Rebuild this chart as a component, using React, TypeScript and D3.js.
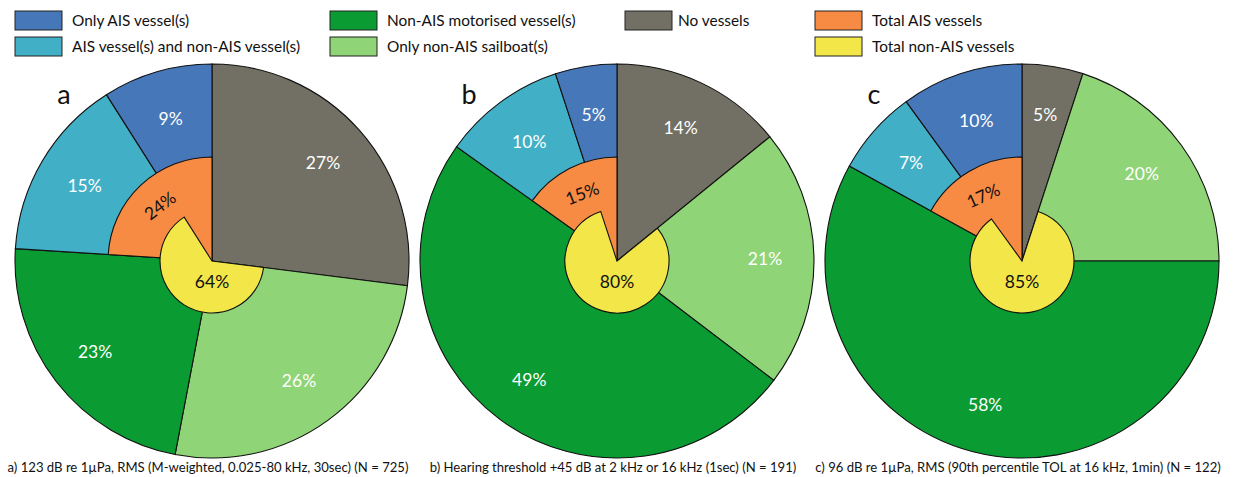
import React, { useEffect, useRef } from "react";
import * as d3 from "d3";

// outer ring categories, clockwise from 12 o'clock
const categories = [
  "No vessels",
  "Only non-AIS sailboat(s)",
  "Non-AIS motorised vessel(s)",
  "AIS vessel(s) and non-AIS vessel(s)",
  "Only AIS vessel(s)",
];
const valuesA = [27, 26, 23, 15, 9];
const valuesB = [14, 21, 49, 10, 5];
const valuesC = [5, 20, 58, 7, 10];
const totalAIS = [24, 15, 17];
const totalNonAIS = [64, 80, 85];
const panelLetters = ["a", "b", "c"];
const captions = [
  "a) 123 dB re 1\u00b5Pa, RMS (M-weighted, 0.025-80 kHz, 30sec) (N = 725)",
  "b) Hearing threshold +45 dB at 2 kHz or 16 kHz (1sec) (N = 191)",
  "c) 96 dB re 1\u00b5Pa, RMS (90th percentile TOL at 16 kHz, 1min) (N = 122)",
];

const legendItems = [
  { key: "Only AIS vessel(s)", col: 0, row: 0 },
  { key: "AIS vessel(s) and non-AIS vessel(s)", col: 0, row: 1 },
  { key: "Non-AIS motorised vessel(s)", col: 1, row: 0 },
  { key: "Only non-AIS sailboat(s)", col: 1, row: 1 },
  { key: "No vessels", col: 2, row: 0 },
  { key: "Total AIS vessels", col: 3, row: 0 },
  { key: "Total non-AIS vessels", col: 3, row: 1 },
];

const colors = d3
  .scaleOrdinal<string, string>()
  .domain([...categories, "Total AIS vessels", "Total non-AIS vessels"])
  .range(["#727064", "#8fd476", "#0a9b32", "#41afc5", "#4677b8", "#f88b43", "#f3e648"]);

const FONT = "Lato, 'Open Sans', sans-serif";

export default function App() {
  const ref = useRef<SVGSVGElement>(null);

  useEffect(() => {
    const svg = d3.select(ref.current);
    svg.selectAll("*").remove();

    const width = 1238;
    const R = 197;
    const rOrange = 104;
    const rYellow = 52;
    const cy = 261;
    const xCenter = d3.scalePoint<number>().domain([0, 1, 2]).range([212, 1022]);

    // legend
    const legendCols = [15, 330, 625, 815];
    const legend = svg
      .append("g")
      .selectAll("g")
      .data(legendItems)
      .join("g")
      .attr("transform", (d) => `translate(${legendCols[d.col]},${11 + d.row * 26})`);
    legend
      .append("rect")
      .attr("width", 47)
      .attr("height", 19)
      .attr("fill", (d) => colors(d.key))
      .attr("stroke", "#222")
      .attr("stroke-width", 1);
    legend
      .append("text")
      .attr("x", (d) => (d.col === 2 ? 53 : 57))
      .attr("y", 15)
      .attr("font-family", FONT)
      .attr("font-size", 15.4)
      .attr("fill", "#111")
      .text((d) => d.key);

    const pie = d3
      .pie<number>()
      .sort(null)
      .value((d) => d);
    const arc = d3.arc<d3.PieArcDatum<number>>().innerRadius(0).outerRadius(R);

    [valuesA, valuesB, valuesC].forEach((vals, i) => {
      const cx = xCenter(i)!;
      const g = svg.append("g").attr("transform", `translate(${cx},${cy})`);
      const arcs = pie(vals);

      g.selectAll("path.outer")
        .data(arcs)
        .join("path")
        .attr("class", "outer")
        .attr("d", arc)
        .attr("fill", (d, j) => colors(categories[j]))
        .attr("stroke", "#111")
        .attr("stroke-width", 1.1);

      // orange: AIS related slices (mixed + only AIS)
      const aisArc = d3
        .arc()
        .innerRadius(0)
        .outerRadius(rOrange)
        .startAngle(arcs[3].startAngle)
        .endAngle(arcs[4].endAngle);
      g.append("path")
        .attr("d", aisArc as any)
        .attr("fill", colors("Total AIS vessels"))
        .attr("stroke", "#111")
        .attr("stroke-width", 1.1);

      // yellow: non-AIS related slices
      const nonAisArc = d3
        .arc()
        .innerRadius(0)
        .outerRadius(rYellow)
        .startAngle(arcs[1].startAngle)
        .endAngle(arcs[3].endAngle);
      g.append("path")
        .attr("d", nonAisArc as any)
        .attr("fill", colors("Total non-AIS vessels"))
        .attr("stroke", "#111")
        .attr("stroke-width", 1.1);

      // outer labels
      const labelArc = d3.arc<d3.PieArcDatum<number>>().innerRadius(148).outerRadius(148);
      g.selectAll("text.outer")
        .data(arcs)
        .join("text")
        .attr("class", "outer")
        .attr("transform", (d) => {
          const [x, y] = labelArc.centroid(d);
          return `translate(${x},${y})`;
        })
        .attr("text-anchor", "middle")
        .attr("dy", "0.36em")
        .attr("font-family", FONT)
        .attr("font-size", 17.5)
        .attr("fill", "#fff")
        .text((d) => `${d.data}%`);

      // orange label, rotated along the arc
      const mid = (arcs[3].startAngle + arcs[4].endAngle) / 2;
      const rl = 76;
      g.append("text")
        .attr(
          "transform",
          `translate(${rl * Math.sin(mid)},${-rl * Math.cos(mid)}) rotate(${(mid * 180) / Math.PI - 360 + 6})`
        )
        .attr("text-anchor", "middle")
        .attr("dy", "0.36em")
        .attr("font-family", FONT)
        .attr("font-size", 17.5)
        .attr("fill", "#111")
        .text(`${totalAIS[i]}%`);

      // yellow label
      g.append("text")
        .attr("x", 0)
        .attr("y", rYellow * 0.4)
        .attr("text-anchor", "middle")
        .attr("dy", "0.36em")
        .attr("font-family", FONT)
        .attr("font-size", 17.5)
        .attr("fill", "#111")
        .text(`${totalNonAIS[i]}%`);

      // panel letter
      svg
        .append("text")
        .attr("x", cx - 148)
        .attr("y", 104)
        .attr("text-anchor", "middle")
        .attr("font-family", FONT)
        .attr("font-size", 27)
        .attr("fill", "#111")
        .text(panelLetters[i]);

      // caption
      svg
        .append("text")
        .attr("x", cx - 4)
        .attr("y", 472)
        .attr("text-anchor", "middle")
        .attr("font-family", FONT)
        .attr("font-size", 13.1)
        .attr("fill", "#111")
        .text(captions[i]);
    });

    svg.attr("width", width).attr("height", 477);
  }, []);

  return (
    <div style={{ position: "absolute", left: 0, top: 0 }}>
      <svg ref={ref} width={1238} height={477} style={{ display: "block", background: "#fff" }} />
    </div>
  );
}
